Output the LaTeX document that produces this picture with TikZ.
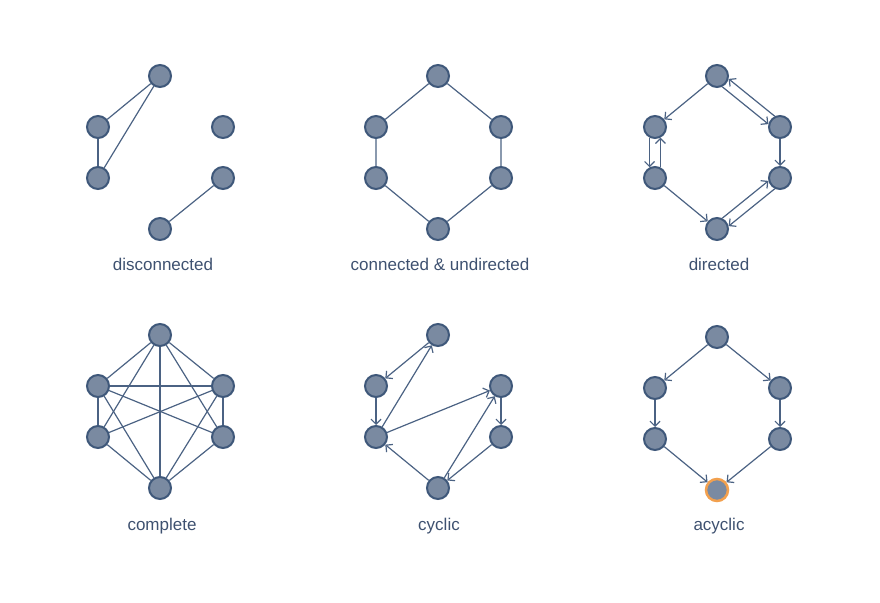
\documentclass[tikz,border=0pt]{standalone}
\usepackage{fontspec}
\setmainfont{Liberation Sans}
\usetikzlibrary{arrows.meta}

\definecolor{nodefill}{HTML}{7A8AA1}
\definecolor{nodeline}{HTML}{3F587A}
\definecolor{edgeline}{HTML}{4B6283}
\definecolor{labeltext}{HTML}{3E5170}
\definecolor{ringorange}{HTML}{F2A04E}

\tikzset{
  vertex/.style={circle,draw=nodeline,fill=nodefill,line width=2pt,minimum size=22pt,inner sep=0pt},
  edge/.style={edgeline,line width=1.2pt},
  arc/.style={edge,-{Straight Barb[length=5pt,width=10pt]}},
  caption/.style={anchor=base,text=labeltext,font=\fontsize{17}{20}\selectfont}
}

\newcommand{\hexgraph}[4]{
  \begin{scope}[shift={(#2,#3)}]
    \node [vertex] (#1t) at (0,0) {};
    \node [vertex] (#1lu) at (-62,51) {};
    \node [vertex] (#1ll) at (-62,102) {};
    \node [vertex] (#1ru) at (63,51) {};
    \node [vertex] (#1rl) at (63,102) {};
    \node [vertex,#4] (#1b) at (0,153) {};
  \end{scope}
}

\begin{document}
\begin{tikzpicture}[x=1pt,y=-1pt]
  \useasboundingbox (0,0) rectangle (880,602);

  % top row
  \hexgraph{dc}{160}{76}{}
  \hexgraph{cu}{438}{76}{}
  \hexgraph{di}{717}{76}{}

  \draw [edge] (dct) -- (dclu);
  \draw [edge] (dct) -- (dcll);
  \draw [edge] (dclu) -- (dcll);
  \draw [edge] (dcrl) -- (dcb);

  \draw [edge] (cut) -- (culu) -- (cull) -- (cub) -- (curl) -- (curu) -- (cut);

  \draw [arc] (dit) -- (dilu);
  \draw [arc] (dit.-64) -- (diru.166);
  \draw [arc] (diru.116) -- (dit.-14);
  \draw [arc] (dilu.-117) -- (dill.117);
  \draw [arc] (dill.63) -- (dilu.-63);
  \draw [arc] (diru) -- (dirl);
  \draw [arc] (dill) -- (dib);
  \draw [arc] (dib.64) -- (dirl.194);
  \draw [arc] (dirl.244) -- (dib.14);

  \node [caption] (capdc) at (163,270) {disconnected};
  \node [caption] (capcu) at (440,270) {connected \& undirected};
  \node [caption] (capdi) at (719,270) {directed};

  % bottom row
  \hexgraph{co}{160}{335}{}
  \hexgraph{cy}{438}{335}{}
  \hexgraph{ac}{717}{337}{draw=ringorange,line width=2.5pt}

  \foreach \a/\b in {t/lu,t/ll,t/ru,t/rl,t/b,lu/ll,lu/ru,lu/rl,lu/b,ll/ru,ll/b,ru/rl,ru/b,rl/b}
    \draw [edge] (co\a) -- (co\b);

  \draw [arc] (cyt) -- (cylu);
  \draw [arc] (cylu) -- (cyll);
  \draw [arc] (cyll) -- (cyt);
  \draw [arc] (cyll) -- (cyru);
  \draw [arc] (cyru) -- (cyrl);
  \draw [arc] (cyrl) -- (cyb);
  \draw [arc] (cyb) -- (cyru);
  \draw [arc] (cyb) -- (cyll);

  \draw [arc] (act) -- (aclu);
  \draw [arc] (act) -- (acru);
  \draw [arc] (aclu) -- (acll);
  \draw [arc] (acru) -- (acrl);
  \draw [arc] (acll) -- (acb);
  \draw [arc] (acrl) -- (acb);

  \node [caption] (capco) at (162,530) {complete};
  \node [caption] (capcy) at (439,530) {cyclic};
  \node [caption] (capac) at (719,530) {acyclic};
\end{tikzpicture}
\end{document}
